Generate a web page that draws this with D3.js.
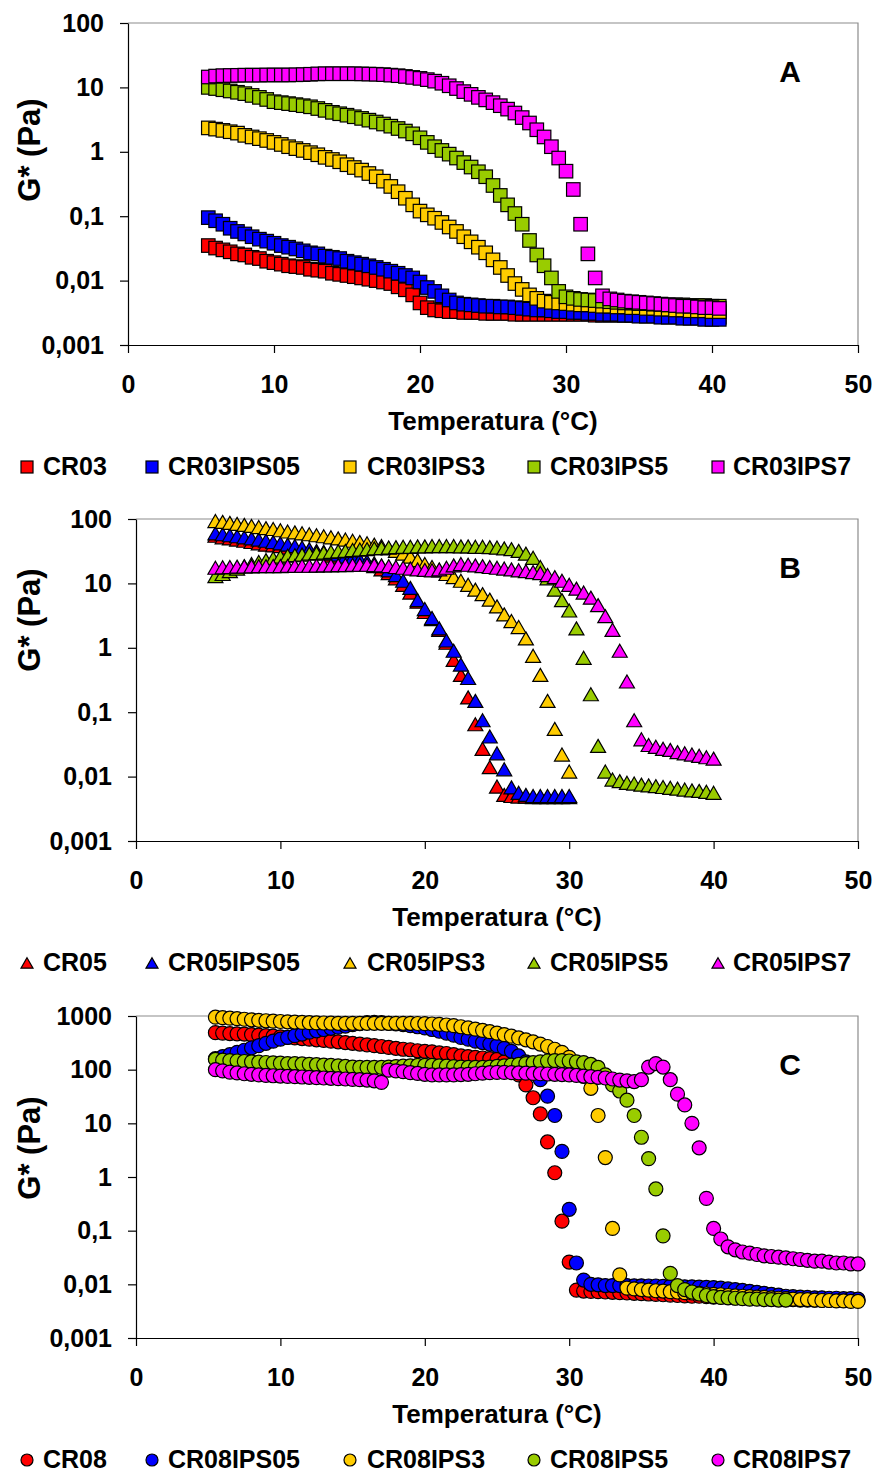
<!DOCTYPE html>
<html>
<head>
<meta charset="utf-8">
<script src="https://cdn.jsdelivr.net/npm/d3@7"></script>
<style>
  body { margin: 0; background: #fff; }
  svg text { font-family: "Liberation Sans", Arial, sans-serif; font-weight: bold; fill: #000; }
</style>
</head>
<body>
<div id="place"></div>
<script>
// temperatura (°C), shared by every series
const temps = [
  5.5, 6, 6.5, 7, 7.5, 8, 8.5, 9, 9.5, 10,
  10.5, 11, 11.5, 12, 12.5, 13, 13.5, 14, 14.5, 15,
  15.5, 16, 16.5, 17, 17.5, 18, 18.5, 19, 19.5, 20,
  20.5, 21, 21.5, 22, 22.5, 23, 23.5, 24, 24.5, 25,
  25.5, 26, 26.5, 27, 27.5, 28, 28.5, 29, 29.5, 30,
  30.5, 31, 31.5, 32, 32.5, 33, 33.5, 34, 34.5, 35,
  35.5, 36, 36.5, 37, 37.5, 38, 38.5, 39, 39.5, 40,
  40.5, 41, 41.5, 42, 42.5, 43, 43.5, 44, 44.5, 45,
  45.5, 46, 46.5, 47, 47.5, 48, 48.5, 49, 49.5, 50
];

const xTicks = [0, 10, 20, 30, 40, 50];
const yTicksAB = [0.001, 0.01, 0.1, 1, 10, 100];
const yLabelsAB = ["0,001", "0,01", "0,1", "1", "10", "100"];
const yTicksC = [0.001, 0.01, 0.1, 1, 10, 100, 1000];
const yLabelsC = ["0,001", "0,01", "0,1", "1", "10", "100", "1000"];

const colors = ["#ff0000", "#0000ff", "#ffcc00", "#99cc00", "#ff00ff"];

// Panel A
const namesA = ["CR03", "CR03IPS05", "CR03IPS3", "CR03IPS5", "CR03IPS7"];
const cr03 = [
  0.035, 0.032, 0.030, 0.028, 0.026, 0.025, 0.023, 0.022, 0.020, 0.019,
  0.018, 0.017, 0.0165, 0.016, 0.015, 0.0145, 0.014, 0.013, 0.0125, 0.012,
  0.0115, 0.011, 0.0105, 0.010, 0.0095, 0.009, 0.008, 0.0072, 0.006, 0.0045,
  0.0038, 0.0035, 0.0034, 0.0033, 0.0033, 0.0032, 0.0032, 0.0032, 0.0031, 0.0031,
  0.0031, 0.0031, 0.003, 0.003, 0.003, 0.003, 0.003, 0.003, 0.003, 0.003,
  0.003, 0.003, 0.003, 0.0029, 0.0029, 0.0029, 0.0029, 0.0029, 0.0029, 0.0029,
  0.0029, 0.0029, 0.0028, 0.0028, 0.0028, 0.0028, 0.0027, 0.0027, 0.0027, 0.0027,
  0.0027
];
const cr03ips05 = [
  0.095, 0.085, 0.075, 0.065, 0.058, 0.053, 0.048, 0.044, 0.041, 0.038,
  0.035, 0.033, 0.031, 0.029, 0.027, 0.026, 0.024, 0.023, 0.022, 0.020,
  0.019, 0.018, 0.017, 0.016, 0.015, 0.014, 0.013, 0.012, 0.011, 0.0095,
  0.0078, 0.0068, 0.0058, 0.005, 0.0045, 0.0043, 0.0042, 0.0041, 0.004, 0.004,
  0.0039, 0.0039, 0.0038, 0.0037, 0.0036, 0.0035, 0.0035, 0.0034, 0.0033, 0.0033,
  0.0032, 0.0032, 0.0031, 0.0031, 0.003, 0.003, 0.003, 0.0029, 0.0029, 0.0028,
  0.0028, 0.0028, 0.0027, 0.0027, 0.0027, 0.0026, 0.0026, 0.0026, 0.0025, 0.0025,
  0.0025
];
const cr03ips3 = [
  2.35, 2.25, 2.15, 2.05, 1.95, 1.8, 1.7, 1.6, 1.5, 1.4,
  1.3, 1.2, 1.12, 1.05, 0.97, 0.9, 0.82, 0.76, 0.7, 0.63,
  0.57, 0.52, 0.46, 0.41, 0.35, 0.29, 0.24, 0.19, 0.15, 0.12,
  0.105, 0.093, 0.08, 0.068, 0.058, 0.048, 0.04, 0.033, 0.027, 0.021,
  0.016, 0.012, 0.009, 0.0073, 0.006, 0.0053, 0.0048, 0.0046, 0.0045, 0.0044,
  0.0043, 0.0042, 0.0042, 0.0041, 0.004, 0.004, 0.0039, 0.0039, 0.0038, 0.0038,
  0.0037, 0.0037, 0.0036, 0.0036, 0.0035, 0.0035, 0.0034, 0.0034, 0.0034, 0.0033,
  0.0033
];
const cr03ips5 = [
  10, 9.6, 9.2, 8.8, 8.4, 8.0, 7.5, 7.0, 6.5, 6.0,
  5.8, 5.6, 5.4, 5.2, 5.0, 4.7, 4.4, 4.1, 3.9, 3.7,
  3.5, 3.3, 3.1, 2.9, 2.7, 2.5, 2.3, 2.1, 1.9, 1.65,
  1.4, 1.2, 1.05, 0.92, 0.8, 0.68, 0.58, 0.49, 0.41, 0.3,
  0.21, 0.15, 0.11, 0.075, 0.042, 0.025, 0.017, 0.011, 0.0068, 0.0056,
  0.0053, 0.0051, 0.005, 0.0049, 0.0048, 0.0047, 0.0046, 0.0045, 0.0045, 0.0044,
  0.0044, 0.0043, 0.0043, 0.0042, 0.0042, 0.0042, 0.0041, 0.0041, 0.0041, 0.004,
  0.004
];
const cr03ips7 = [
  14.5, 15, 15.2, 15.3, 15.4, 15.5, 15.5, 15.5, 15.6, 15.6,
  15.6, 15.6, 15.7, 15.8, 16, 16.2, 16.3, 16.3, 16.3, 16.3,
  16.3, 16.2, 16.1, 16, 15.8, 15.5, 15.2, 14.8, 14.3, 13.8,
  13.2, 12.5, 11.6, 10.6, 9.6, 8.6, 7.8, 7.0, 6.4, 5.8,
  5.2, 4.6, 4.0, 3.4, 2.8, 2.2, 1.7, 1.2, 0.8, 0.5,
  0.26, 0.075, 0.026, 0.011, 0.0058, 0.0052, 0.005, 0.0048, 0.0047, 0.0046,
  0.0045, 0.0044, 0.0043, 0.0042, 0.0041, 0.004, 0.004, 0.0039, 0.0038, 0.0038,
  0.0037
];

// Panel B
const namesB = ["CR05", "CR05IPS05", "CR05IPS3", "CR05IPS5", "CR05IPS7"];
const cr05 = [
  55, 52, 50, 48, 46, 44, 42, 40, 39, 38,
  36, 35, 33, 32, 30, 29, 27, 26, 24, 23,
  21.5, 20, 18.5, 16.5, 14.5, 12, 9.5, 7.2, 5.2, 3.6,
  2.8, 1.9, 1.2, 0.65, 0.38, 0.17, 0.065, 0.027, 0.014, 0.007,
  0.0052, 0.005, 0.0049, 0.0049, 0.0048, 0.0048, 0.0048, 0.0048, 0.0048, 0.0048
];
const cr05ips05 = [
  60, 58, 56, 54, 52, 50, 48, 46, 44, 42,
  40, 38, 36, 34, 32, 31, 29, 28, 26, 25,
  23.5, 22, 20.5, 18.5, 16, 13.5, 11, 8.5, 5.5, 4.0,
  2.9, 2.0, 1.3, 0.9, 0.55, 0.34, 0.15, 0.075, 0.042, 0.023,
  0.013, 0.0068, 0.0056, 0.0052, 0.005, 0.005, 0.005, 0.005, 0.005, 0.005
];
const cr05ips3 = [
  93, 90, 87, 84, 81, 78, 75, 72, 70, 67,
  64, 62, 60, 58, 56, 54, 52, 50, 48, 46,
  44, 42, 40, 38, 35, 32, 29, 26, 23, 20,
  18, 16, 14, 12.5, 11, 9.5, 8, 6.8, 5.6, 4.4,
  3.3, 2.6, 2.1, 1.4, 0.75, 0.38, 0.15, 0.055, 0.022, 0.012
];
const cr05ips5 = [
  13, 14, 15.5, 17, 18.5, 20, 21.5, 23, 24.5, 26,
  27, 27.5, 28, 29, 29.5, 30, 31, 31.5, 32, 33,
  33.5, 34, 35, 35.5, 36, 36.5, 37, 37, 37.5, 37.5,
  38, 38, 38, 38, 37.5, 37.5, 37, 37, 36.5, 36,
  35, 34, 32, 29, 25, 18, 12, 8, 5.5, 3.8,
  2.0, 0.7, 0.19, 0.03, 0.012, 0.009, 0.0085, 0.008, 0.0078, 0.0075,
  0.0073, 0.0071, 0.0069, 0.0067, 0.0065, 0.0063, 0.0061, 0.006, 0.0058, 0.0056
];
const cr05ips7 = [
  17.5, 17.8, 18, 18.2, 18.3, 18.4, 18.5, 18.5, 18.6, 18.6,
  18.7, 18.7, 18.8, 18.8, 18.9, 19, 19, 19.2, 19.3, 19.4,
  19.5, 19.5, 19.3, 19, 18.5, 18, 17.5, 17, 16.5, 16.2,
  16, 16.5, 17.5, 19, 20, 19.5, 19, 18.5, 18, 17.5,
  17, 16.5, 16, 15.5, 15, 14.5, 13.5, 12.5, 11, 9.5,
  8.3, 7.2, 6.0, 4.6, 3.1, 1.9, 0.9, 0.3, 0.075, 0.038,
  0.031, 0.029, 0.027, 0.026, 0.024, 0.023, 0.022, 0.021, 0.02, 0.019
];

// Panel C
const namesC = ["CR08", "CR08IPS05", "CR08IPS3", "CR08IPS5", "CR08IPS7"];
const cr08 = [
  490, 480, 470, 465, 460, 450, 440, 430, 420, 410,
  400, 390, 380, 370, 360, 350, 340, 330, 320, 310,
  300, 290, 280, 270, 260, 250, 240, 235, 225, 220,
  215, 205, 200, 190, 180, 175, 170, 165, 160, 155,
  140, 115, 80, 52, 30, 15, 4.5, 1.2, 0.15, 0.026,
  0.0078, 0.0075, 0.0074, 0.0073, 0.0072, 0.0071, 0.007, 0.0069, 0.0068, 0.0067,
  0.0066, 0.0065, 0.0064, 0.0063, 0.0062, 0.0061, 0.006, 0.006, 0.0059, 0.0058,
  0.0058, 0.0057, 0.0056, 0.0056, 0.0055, 0.0055, 0.0054, 0.0053, 0.0053, 0.0052,
  0.0052, 0.0051, 0.0051, 0.0051, 0.005, 0.005, 0.005, 0.005, 0.005, 0.005
];
const cr08ips05 = [
  160, 175, 190, 210, 230, 255, 280, 310, 340, 370,
  400, 430, 460, 500, 530, 560, 590, 620, 650, 690,
  720, 750, 760, 750, 730, 710, 690, 660, 630, 600,
  560, 520, 480, 440, 400, 370, 340, 320, 300, 280,
  250, 220, 180, 140, 100, 65, 32, 14, 3.0, 0.25,
  0.025, 0.012, 0.01, 0.0098, 0.0095, 0.0095, 0.0095, 0.0095, 0.0094, 0.0094,
  0.0093, 0.0093, 0.0092, 0.0092, 0.0091, 0.009, 0.009, 0.0089, 0.0088, 0.0087,
  0.0085, 0.0082, 0.008, 0.0077, 0.0074, 0.0071, 0.0068, 0.0065, 0.0063, 0.006,
  0.0059, 0.0058, 0.0057, 0.0056, 0.0056, 0.0055, 0.0055, 0.0054, 0.0054, 0.0053
];
const cr08ips3 = [
  950, 930, 910, 890, 870, 850, 830, 815, 800, 790,
  780, 770, 760, 750, 745, 740, 735, 730, 730, 730,
  730, 730, 730, 730, 730, 730, 730, 730, 725, 720,
  710, 700, 680, 660, 630, 600, 570, 540, 510, 480,
  450, 420, 390, 360, 330, 300, 270, 240, 210, 170,
  120, 75, 45, 14, 2.3, 0.11, 0.015, 0.0085, 0.0082, 0.008,
  0.0078, 0.0076, 0.0075, 0.0073, 0.0072, 0.007, 0.0069, 0.0068, 0.0066, 0.0065,
  0.0064, 0.0062, 0.0061, 0.006, 0.0059, 0.0058, 0.0057, 0.0056, 0.0055, 0.0054,
  0.0053, 0.0052, 0.0052, 0.0051, 0.005, 0.005, 0.0049, 0.0049, 0.0048, 0.0048
];
const cr08ips5 = [
  155, 150, 148, 145, 142, 140, 138, 136, 134, 132,
  130, 130, 128, 126, 124, 122, 120, 118, 115, 112,
  110, 110, 110, 110, 112, 114, 116, 118, 120, 120,
  120, 118, 116, 114, 112, 110, 110, 110, 112, 115,
  118, 122, 126, 130, 135, 140, 145, 148, 148, 145,
  140, 135, 125, 110, 80, 52, 40, 27, 14, 5.5,
  2.2, 0.6, 0.08, 0.016, 0.0095, 0.008, 0.0072, 0.0066, 0.0062, 0.0059,
  0.0057, 0.0056, 0.0055, 0.0054, 0.0053, 0.0053, 0.0052, 0.0052, 0.0051, 0.0051
];
const cr08ips7 = [
  100, 95, 90, 87, 84, 82, 80, 78, 77, 76,
  75, 74, 73, 72, 71, 70, 69, 68, 67, 66,
  65, 64, 62, 58, 98, 95, 92, 88, 85, 82,
  80, 80, 80, 80, 81, 82, 84, 86, 88, 89,
  89, 88, 87, 86, 85, 84, 83, 82, 81, 80,
  78, 76, 74, 72, 70, 67, 64, 62, 60, 65,
  112, 130, 112, 65, 35, 22, 10, 3.5, 0.4, 0.11,
  0.07, 0.05, 0.044, 0.04, 0.038, 0.036, 0.034, 0.033, 0.032, 0.031,
  0.03, 0.029, 0.028, 0.027, 0.027, 0.026, 0.025, 0.025, 0.024, 0.024
];

// mise en page des trois graphes
const panels = [
  { letter: "A", names: namesA, series: [cr03, cr03ips05, cr03ips3, cr03ips5, cr03ips7], shape: "square", size: 13.5,
    yTicks: yTicksAB, yLabels: yLabelsAB, top: 23, bottom: 345, left: 128, right: 858, titleY: 150 },
  { letter: "B", names: namesB, series: [cr05, cr05ips05, cr05ips3, cr05ips5, cr05ips7], shape: "triangle", size: 15,
    yTicks: yTicksAB, yLabels: yLabelsAB, top: 519, bottom: 841, left: 136, right: 858, titleY: 620 },
  { letter: "C", names: namesC, series: [cr08, cr08ips05, cr08ips3, cr08ips5, cr08ips7], shape: "circle", size: 14,
    yTicks: yTicksC, yLabels: yLabelsC, top: 1016, bottom: 1338, left: 136, right: 858, titleY: 1148 }
];

const legendMarkX = [20, 145, 343, 527, 711];
const legendTextX = [43, 168, 367, 550, 733];

const svg = d3.select("#place").append("svg")
  .attr("width", 875)
  .attr("height", 1475);

function drawMark(g, shape, cx, cy, color, s) {
  if (shape === "square") {
    g.append("rect")
      .attr("x", cx - s / 2).attr("y", cy - s / 2)
      .attr("width", s).attr("height", s)
      .attr("fill", color).attr("stroke", "#000").attr("stroke-width", 1.2);
  } else if (shape === "triangle") {
    const h = s * 0.87;
    g.append("path")
      .attr("d", `M${cx},${cy - h / 2}L${cx + s / 2},${cy + h / 2}L${cx - s / 2},${cy + h / 2}Z`)
      .attr("fill", color).attr("stroke", "#000").attr("stroke-width", 1.2)
      .attr("stroke-linejoin", "miter");
  } else {
    g.append("circle")
      .attr("cx", cx).attr("cy", cy).attr("r", s / 2)
      .attr("fill", color).attr("stroke", "#000").attr("stroke-width", 1.2);
  }
}

panels.forEach(p => {
  const g = svg.append("g");

  const x = d3.scaleLinear().domain([0, 50]).range([p.left, p.right]);
  const y = d3.scaleLog().domain([p.yTicks[0], p.yTicks[p.yTicks.length - 1]]).range([p.bottom, p.top]);

  // cadre gris haut / droite
  g.append("path")
    .attr("d", `M${p.left},${p.top}H${p.right}V${p.bottom}`)
    .attr("fill", "none").attr("stroke", "#8c8c8c").attr("stroke-width", 1.2);

  // points
  const marks = g.append("g");
  p.series.forEach((vals, s) => {
    vals.forEach((v, i) => {
      drawMark(marks, p.shape, x(temps[i]), y(v), colors[s], p.size);
    });
  });

  // axes
  const yAxis = g.append("g")
    .attr("transform", `translate(${p.left},0)`)
    .call(d3.axisLeft(y).tickValues(p.yTicks)
      .tickFormat((d, i) => p.yLabels[i]).tickSize(8).tickSizeOuter(0).tickPadding(16));
  const xAxis = g.append("g")
    .attr("transform", `translate(0,${p.bottom})`)
    .call(d3.axisBottom(x).tickValues(xTicks).tickSize(8).tickSizeOuter(0).tickPadding(22));

  [yAxis, xAxis].forEach(a => {
    a.selectAll("path, line").attr("stroke", "#000").attr("stroke-width", 1.2);
    a.selectAll("text").style("font-size", "25px").style("font-family", "'Liberation Sans', Arial, sans-serif")
      .style("font-weight", "bold").attr("fill", "#000");
  });

  // titres
  g.append("text")
    .attr("x", (p.left + p.right) / 2).attr("y", p.bottom + 85)
    .attr("text-anchor", "middle").style("font-size", "26px")
    .text("Temperatura (°C)");

  g.append("text")
    .attr("transform", `translate(40,${p.titleY}) rotate(-90)`)
    .attr("text-anchor", "middle").style("font-size", "31px")
    .text("G* (Pa)");

  g.append("text")
    .attr("x", 790).attr("y", p.top + 59)
    .attr("text-anchor", "middle").style("font-size", "30px")
    .text(p.letter);

  // légende
  const ly = p.bottom + 122;
  const leg = g.append("g");
  p.names.forEach((n, i) => {
    drawMark(leg, p.shape, legendMarkX[i] + 7, ly, colors[i], 12);
    leg.append("text")
      .attr("x", legendTextX[i]).attr("y", ly + 8)
      .style("font-size", "25px")
      .text(n);
  });
});
</script>
</body>
</html>
